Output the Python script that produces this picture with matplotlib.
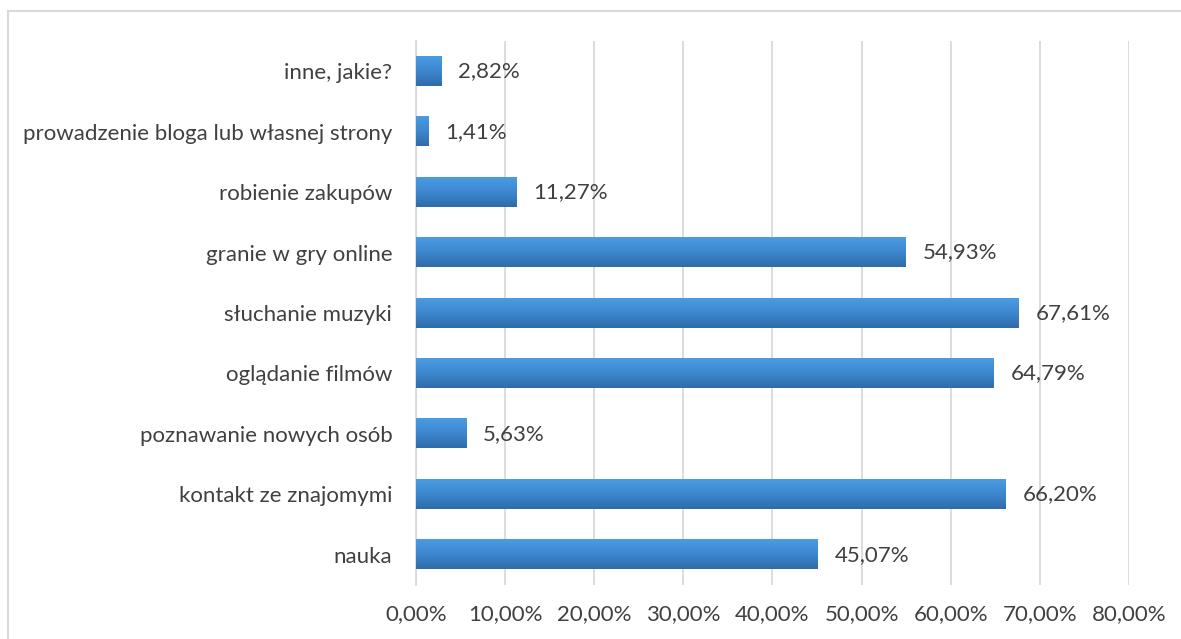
"""
Horizontal bar chart of internet activities (percent of respondents)
"""
import matplotlib.pyplot as plt
import numpy as np
from matplotlib.colors import LinearSegmentedColormap
from matplotlib.patches import Rectangle

categories = [
    "nauka",
    "kontakt ze znajomymi",
    "poznawanie nowych osób",
    "oglądanie filmów",
    "słuchanie muzyki",
    "granie w gry online",
    "robienie zakupów",
    "prowadzenie bloga lub własnej strony",
    "inne, jakie?",
]
values = [45.07, 66.20, 5.63, 64.79, 67.61, 54.93, 11.27, 1.41, 2.82]
xticks = [0, 10, 20, 30, 40, 50, 60, 70, 80]

text_color = "#404040"
grid_color = "#d9d9d9"
plt.rcParams["font.family"] = ["Lato", "DejaVu Sans"]
fs = 16

fig = plt.figure(figsize=(11.81, 6.39), dpi=100)
ax = fig.add_axes([0.3522, 0.0845, 0.6037, 0.8513])

# gradient fill, light on top, darker at the bottom
cmap = LinearSegmentedColormap.from_list("bar", ["#2f6ca8", "#3d87cf", "#4a9ce3"])
grad = np.linspace(0, 1, 64).reshape(-1, 1)
bar_h = 0.48
for i, v in enumerate(values):
    ax.imshow(grad, cmap=cmap, aspect="auto", origin="lower",
              extent=(0, v, i - bar_h / 2, i + bar_h / 2), zorder=3)
    ax.text(v + 1.9, i, f"{v:.2f}%".replace(".", ","), va="center", ha="left",
            fontsize=fs, color=text_color)

ax.set_xlim(0, 80)
ax.set_ylim(-0.5, len(categories) - 0.5)
ax.set_yticks(range(len(categories)))
ax.set_yticklabels(categories, fontsize=fs, color=text_color)
ax.set_xticks(xticks)
ax.set_xticklabels([f"{t:.2f}%".replace(".", ",") for t in xticks],
                   fontsize=fs, color=text_color)
ax.tick_params(length=0)
ax.tick_params(axis="y", pad=17)
ax.tick_params(axis="x", pad=14)
ax.grid(axis="x", color=grid_color, linewidth=1.3, zorder=0)
for s in ["top", "right", "bottom"]:
    ax.spines[s].set_visible(False)
ax.spines["left"].set_color(grid_color)
ax.spines["left"].set_linewidth(1.3)

# outer chart border (runs off the right and bottom edges)
fig.patches.append(Rectangle((8 / 1181, -0.1), 1.2, 1 - 11 / 639 + 0.1,
                             transform=fig.transFigure, fill=False,
                             edgecolor=grid_color, linewidth=1.5))

fig.savefig("out.png", dpi=100)
